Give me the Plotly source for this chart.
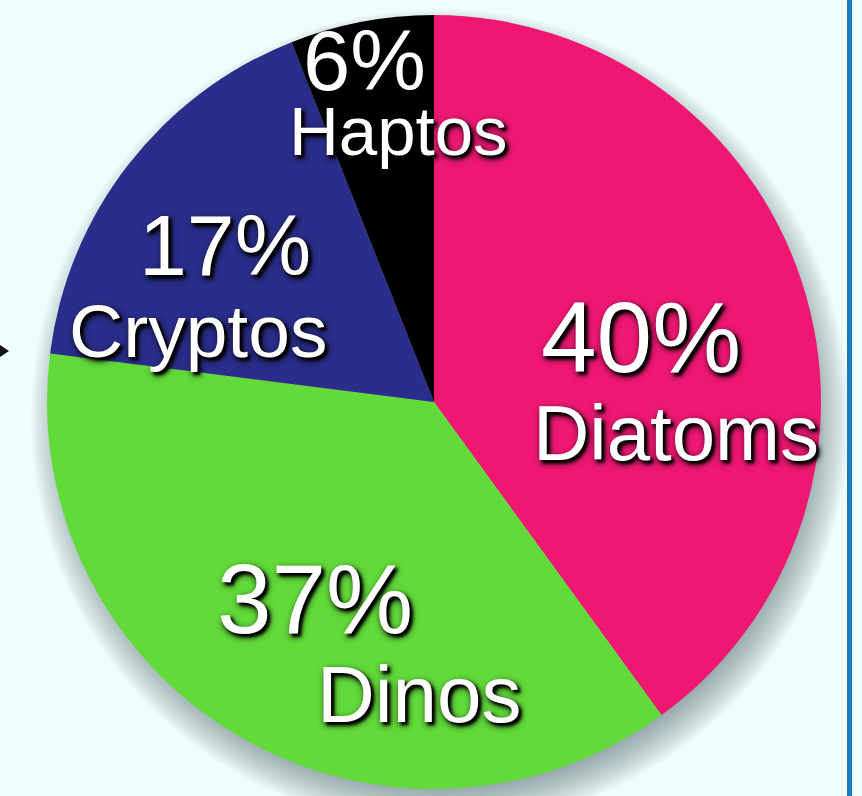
import plotly.graph_objects as go

# Phytoplankton community composition (% of total)
groups = ["Diatoms", "Dinos", "Cryptos", "Haptos"]
shares = [40, 37, 17, 6]
colors = ["#ee1873", "#62da3a", "#2a2d89", "#000000"]

W, H = 862, 796
CX, CY, R = 434, 402, 387  # pie centre / radius in pixels


def px(x):
    return x / W


def py(y):
    return 1 - y / H


fig = go.Figure()
fig.add_trace(go.Pie(
    labels=groups,
    values=shares,
    marker=dict(colors=colors, line=dict(width=0)),
    sort=False,
    direction="clockwise",
    rotation=0,
    textinfo="none",
    hoverinfo="label+percent",
    showlegend=False,
    domain=dict(x=[px(CX - R), px(CX + R)], y=[py(CY + R), py(CY - R)]),
))

# soft drop shadow under the pie: stacked translucent discs, offset down-right
shapes = []
n = 18
for i in range(n):
    rr = R + 22 - i * 2.4
    ox, oy = 6, 16
    shapes.append(dict(
        type="circle", xref="paper", yref="paper", layer="below",
        x0=px(CX + ox - rr), x1=px(CX + ox + rr),
        y0=py(CY + oy + rr), y1=py(CY + oy - rr),
        line=dict(width=0), fillcolor="rgba(70,85,95,0.036)",
    ))

# blue rule on the right
shapes.append(dict(
    type="line", xref="paper", yref="paper",
    x0=px(849.5), x1=px(849.5), y0=0, y1=1,
    line=dict(color="#1a7ac2", width=5),
))
# small arrowhead at left edge
shapes.append(dict(
    type="path", xref="paper", yref="paper",
    path=f"M {px(0)} {py(345)} L {px(9)} {py(351)} L {px(0)} {py(357)} Z",
    fillcolor="#111111", line=dict(width=0),
))

# label layout per slice: (pct centre x, pct baseline, pct size, name centre x, name baseline, name size)
label_pos = {
    "Diatoms": (641, 372, 100, 676, 460, 78),
    "Dinos": (315, 633, 98, 419, 722, 80),
    "Cryptos": (225, 275, 86, 198, 357, 75),
    "Haptos": (364, 90, 85, 398, 155, 69),
}

FONT = "Liberation Sans, Arial, Helvetica, sans-serif"
SHADOW = "3px 3px 3px #000, 2px 3px 7px #000"

annotations = []
for g, v in zip(groups, shares):
    x1, b1, s1, x2, b2, s2 = label_pos[g]
    for text, x, base, size in ((f"{v}%", x1, b1, s1), (g, x2, b2, s2)):
        annotations.append(dict(
            text=text, xref="paper", yref="paper",
            x=px(x), y=py(base - 0.3465 * size),
            xanchor="center", yanchor="middle", showarrow=False,
            font=dict(family=FONT, size=size, color="white", shadow=SHADOW),
        ))

fig.update_layout(
    width=W, height=H,
    margin=dict(l=0, r=0, t=0, b=0),
    paper_bgcolor="#f1fcfd",
    plot_bgcolor="#f1fcfd",
    shapes=shapes,
    annotations=annotations,
)

fig.write_html("out.html")
